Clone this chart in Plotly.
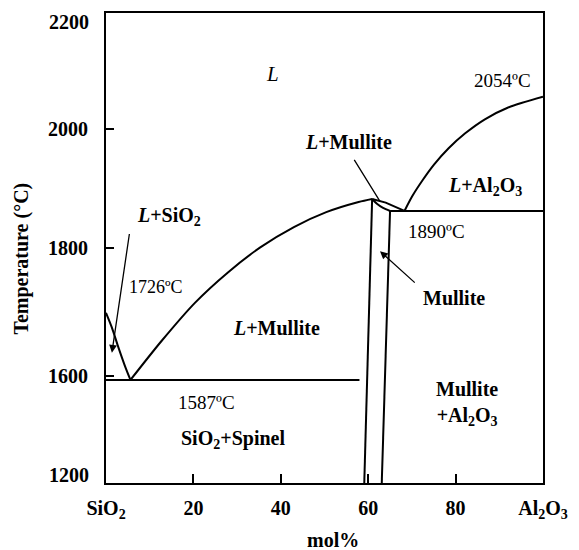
import numpy as np
import plotly.graph_objects as go

# ---- axis definitions ----
X_TICKS = [0, 20, 40, 60, 80, 100]
X_TICK_TEXT = ["SiO<sub>2</sub>", "20", "40", "60", "80", "Al<sub>2</sub>O<sub>3</sub>"]
Y_TICK_T = [1200, 1600, 1800, 2000, 2200]          # temperature ticks (broken axis)
Y_TICK_D = [0, 107, 236, 356, 472]                 # axis position of each tick

def ty(T):
    return np.interp(np.asarray(T, dtype=float), Y_TICK_T, Y_TICK_D)

# ---- phase boundary data (mol% Al2O3, temperature degC) ----
sio2_liq_x = [0, 1.35, 2.7, 4.3, 5.6]
sio2_liq_T = [1699, 1676, 1648, 1617, 1587]

mullite_liq_x = [5.6, 12.8, 20.4, 27.9, 35.3, 43.0, 50.4, 57.8, 60.9]
mullite_liq_T = [1587, 1656, 1715, 1762, 1801, 1835, 1860, 1877, 1882]

peak_liq_x = [60.9, 64.0, 68.3]
peak_liq_T = [1882, 1876, 1862]

lens_x = [60.9, 62.0, 63.4, 65.0]
lens_T = [1882, 1874, 1867, 1862]

al2o3_liq_x = [68.3, 70.1, 72.4, 75.1, 78.4, 82.2, 86.7, 91.9, 100]
al2o3_liq_T = [1862, 1887, 1913, 1940, 1967, 1992, 2016, 2036, 2055]

mullite_left_x = [60.9, 59.1]
mullite_left_T = [1882, 1200]
mullite_right_x = [65.0, 63.1]
mullite_right_T = [1862, 1200]

eut1890_x = [65.0, 100]
eut1890_T = [1862, 1862]
eut1587_x = [0, 58.0]
eut1587_T = [1587, 1587]

# (x, T, smooth curve?)
lines = [
    (sio2_liq_x, sio2_liq_T, True),
    (mullite_liq_x, mullite_liq_T, True),
    (peak_liq_x, peak_liq_T, False),
    (lens_x, lens_T, True),
    (al2o3_liq_x, al2o3_liq_T, True),
    (mullite_left_x, mullite_left_T, False),
    (mullite_right_x, mullite_right_T, False),
    (eut1890_x, eut1890_T, False),
    (eut1587_x, eut1587_T, False),
]

# ---- labels: (text, mol%, T, size, bold) ----
labels = [
    ("<i>L</i>", 38.2, 2095, 21, False),
    ("<i>L</i>+Mullite", 55.5, 1978, 20, True),
    ("<i>L</i>+Al<sub>2</sub>O<sub>3</sub>", 86.7, 1903, 20, True),
    ("2054ºC", 90.8, 2083, 19, False),
    ("<i>L</i>+SiO<sub>2</sub>", 14.4, 1852, 20, True),
    ("1726ºC", 11.5, 1740, 18, False),
    ("<i>L</i>+Mullite", 39.1, 1676, 20, True),
    ("1890ºC", 75.7, 1828, 19, False),
    ("Mullite", 79.6, 1722, 20, True),
    ("1587ºC", 22.9, 1503, 19, False),
    ("SiO<sub>2</sub>+Spinel", 29.0, 1363, 20, True),
    ("Mullite<br>+Al<sub>2</sub>O<sub>3</sub>", 82.5, 1500, 20, True),
]

# ---- pointer arrows: (tip x, tip T, tail x, tail T, head) ----
arrows = [
    (1.35, 1637, 5.4, 1826, 2),
    (62.7, 1878, 56.6, 1950, 0),
    (62.7, 1795, 71.0, 1744, 2),
]

FONT = "Liberation Serif"

fig = go.Figure()
for xs, Ts, smooth in lines:
    fig.add_trace(go.Scatter(
        x=xs, y=ty(Ts), mode="lines",
        line=dict(color="black", width=2,
                  shape="spline" if smooth else "linear", smoothing=0.8),
        showlegend=False, hoverinfo="skip"))

annotations = []
for text, x, T, size, bold in labels:
    annotations.append(dict(
        x=x, y=float(ty(T)), xref="x", yref="y", text=text, showarrow=False,
        font=dict(family=FONT, size=size, color="black",
                  weight="bold" if bold else "normal"),
        xanchor="center", yanchor="middle"))

for tx, tT, sx, sT, head in arrows:
    annotations.append(dict(
        x=tx, y=float(ty(tT)), ax=sx, ay=float(ty(sT)), xref="x", yref="y",
        axref="x", ayref="y", text="", showarrow=True, arrowhead=head,
        arrowsize=1.2, arrowwidth=1.3, arrowcolor="black"))

# end tick labels of the broken temperature axis
for T, shift in [(1200, 8), (2200, -9)]:
    annotations.append(dict(
        x=0, y=float(ty(T)), xref="paper", yref="y", text=str(T),
        showarrow=False, xanchor="right", yanchor="middle",
        xshift=-15, yshift=shift,
        font=dict(family=FONT, size=20, color="black", weight="bold")))

# axis titles
annotations.append(dict(
    x=-0.193, y=0.4767, xref="paper", yref="paper", text="Temperature (°C)",
    textangle=-90, showarrow=False, xanchor="center", yanchor="middle",
    font=dict(family=FONT, size=20, color="black", weight="bold")))
annotations.append(dict(
    x=0.519, y=-0.121, xref="paper", yref="paper", text="mol%",
    showarrow=False, xanchor="center", yanchor="middle",
    font=dict(family=FONT, size=20, color="black", weight="bold")))

fig.update_layout(
    width=579, height=550,
    margin=dict(l=106, r=28, t=11, b=67),
    paper_bgcolor="white", plot_bgcolor="white",
    annotations=annotations,
    xaxis=dict(range=[0, 100], tickvals=X_TICKS, ticktext=X_TICK_TEXT,
               showgrid=False, zeroline=False, showline=True, mirror=True,
               linecolor="black", linewidth=2, ticks="inside", ticklen=9,
               tickwidth=2, tickcolor="black", ticklabelstandoff=6,
               tickfont=dict(family=FONT, size=20, color="black", weight="bold")),
    yaxis=dict(range=[0, 472], tickvals=[ty(t) for t in Y_TICK_T[1:4]],
               ticktext=[str(t) for t in Y_TICK_T[1:4]],
               showgrid=False, zeroline=False, showline=True, mirror=True,
               linecolor="black", linewidth=2, ticks="inside", ticklen=8,
               tickwidth=2, tickcolor="black", ticklabelstandoff=12,
               tickfont=dict(family=FONT, size=20, color="black", weight="bold")),
)

fig.write_html("out.html",
               post_script="document.body.style.margin='0';document.body.style.overflow='hidden';")
